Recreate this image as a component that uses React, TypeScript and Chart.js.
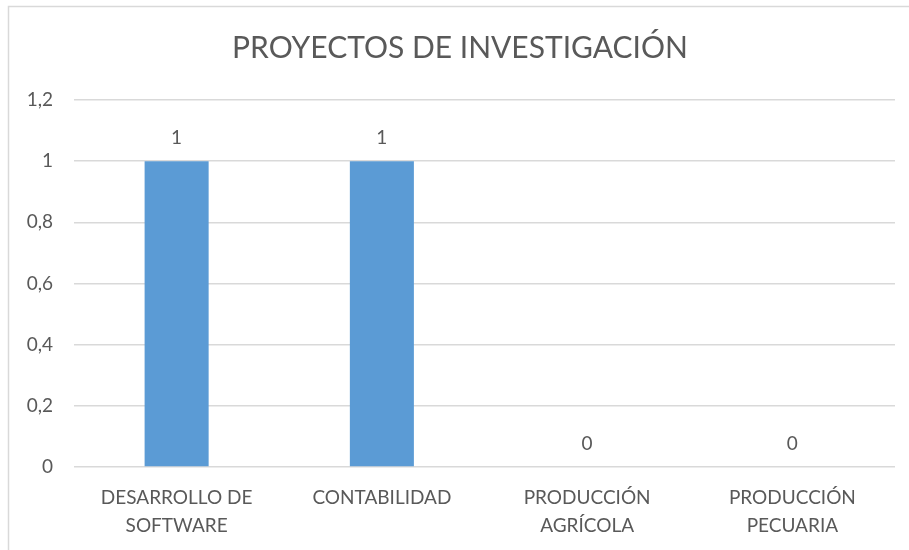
import React, { useEffect, useRef } from "react";
import { Chart, registerables } from "chart.js";

Chart.register(...registerables);

const TITLE = "PROYECTOS DE INVESTIGACIÓN";
const categories: string[][] = [
  ["DESARROLLO DE", "SOFTWARE"],
  ["CONTABILIDAD"],
  ["PRODUCCIÓN", "AGRÍCOLA"],
  ["PRODUCCIÓN", "PECUARIA"],
];
const values: number[] = [1, 1, 0, 0];
const yMin = 0;
const yMax = 1.2;
const yStep = 0.2;

const FONT = "Lato, 'Noto Sans', sans-serif";
const TEXT = "#595959";

const framePlugin = {
  id: "frame",
  beforeDraw(chart: any) {
    const ctx = chart.ctx;
    ctx.save();
    ctx.strokeStyle = "#d9d9d9";
    ctx.lineWidth = 1.5;
    ctx.strokeRect(8.5, 6.5, 1200, 1200);
    ctx.restore();
  },
};

const titlePlugin = {
  id: "customTitle",
  afterDraw(chart: any) {
    const ctx = chart.ctx;
    ctx.save();
    ctx.fillStyle = TEXT;
    ctx.font = `30px ${FONT}`;
    ctx.textAlign = "center";
    ctx.textBaseline = "middle";
    ctx.fillText(TITLE, 460, 48);
    ctx.restore();
  },
};

const valueLabelPlugin = {
  id: "valueLabels",
  afterDatasetsDraw(chart: any) {
    const ctx = chart.ctx;
    const meta = chart.getDatasetMeta(0);
    ctx.save();
    ctx.fillStyle = TEXT;
    ctx.font = `19px ${FONT}`;
    ctx.textAlign = "center";
    ctx.textBaseline = "middle";
    meta.data.forEach((bar: any, i: number) => {
      const v = chart.data.datasets[0].data[i];
      ctx.fillText(String(v), bar.x, bar.y - 23);
    });
    ctx.restore();
  },
};

export default function App() {
  const ref = useRef<HTMLCanvasElement | null>(null);
  useEffect(() => {
    if (!ref.current) return;
    const chart = new Chart(ref.current, {
      type: "bar",
      data: {
        labels: categories,
        datasets: [
          {
            data: values,
            backgroundColor: "#5B9BD5",
            categoryPercentage: 1,
            barPercentage: 0.312,
          },
        ],
      },
      options: {
        responsive: false,
        animation: false,
        layout: { padding: { left: 0, right: 14, top: 100, bottom: 0 } },
        plugins: { legend: { display: false }, title: { display: false }, tooltip: { enabled: false } },
        scales: {
          x: {
            grid: { display: false, drawTicks: false },
            border: { display: false },
            ticks: {
              color: TEXT,
              font: { family: FONT, size: 19, lineHeight: 1.47 },
              padding: 17,
              maxRotation: 0,
              autoSkip: false,
            },
            afterFit(scale: any) {
              scale.height = 83;
            },
          },
          y: {
            min: yMin,
            max: yMax,
            grid: { color: "#d9d9d9", lineWidth: 1.5, drawTicks: false },
            border: { display: false },
            ticks: {
              stepSize: yStep,
              color: TEXT,
              font: { family: FONT, size: 19 },
              padding: 21,
              callback: (v: any) => String(Math.round(Number(v) * 10) / 10).replace(".", ","),
            },
            afterFit(scale: any) {
              scale.width = 74;
            },
          },
        },
      },
      plugins: [framePlugin, titlePlugin, valueLabelPlugin],
    });
    return () => chart.destroy();
  }, []);
  return (
    <div style={{ position: "absolute", left: 0, top: 0, width: 909, height: 550, background: "#fff" }}>
      <canvas ref={ref} width={909} height={550} style={{ display: "block" }} />
    </div>
  );
}
